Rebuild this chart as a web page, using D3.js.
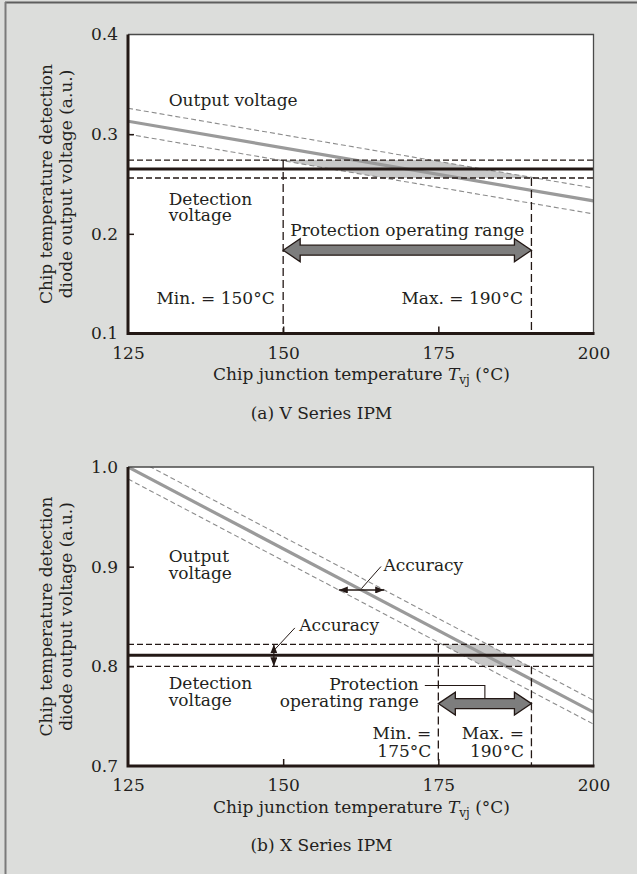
<!DOCTYPE html>
<html><head><meta charset="utf-8">
<script src="https://cdn.jsdelivr.net/npm/d3@7"></script>
<style>
html,body{margin:0;padding:0;background:#dcdddb;}
svg{display:block;}
text{font-family:"DejaVu Serif",serif;fill:#231f20;font-size:17px;}
</style>
</head><body>
<svg id="chart" width="637" height="874"></svg>
<script>
// ---------- shared data ----------
const tempDomain = [125, 200];
const xTickValues = [125, 150, 175, 200];
const yTitleLines = ["Chip temperature detection", "diode output voltage (a.u.)"];
const xTitleParts = ["Chip junction temperature ", "T", "vj", " (°C)"];

// ---------- panel (a) V Series ----------
const aCaption = "(a) V Series IPM";
const aYDomain = [0.1, 0.4];
const aYTicks = [0.1, 0.2, 0.3, 0.4];
const aOutTemps = [125, 200];
const aOutCenter = [0.313, 0.233];
const aOutUpper = [0.326, 0.246];
const aOutLower = [0.300, 0.220];
const aDetect = [0.265, 0.274, 0.256];   // center, upper, lower
const aRange = [150, 190];
const aArrowV = 0.1836;

// ---------- panel (b) X Series ----------
const bCaption = "(b) X Series IPM";
const bYDomain = [0.7, 1.0];
const bYTicks = [0.7, 0.8, 0.9, 1.0];
const bOutTemps = [125, 200];
const bOutCenter = [1.000, 0.754];
const bOutUpper = [1.012, 0.766];
const bOutLower = [0.988, 0.742];
const bDetect = [0.811, 0.822, 0.800];
const bRange = [175, 190];
const bArrowV = 0.7626;
const bAccuracyOutV = 0.8766;   // level of horizontal accuracy arrow
const bAccuracyDetT = 148.5;    // temperature of vertical accuracy arrow

const svg = d3.select("#chart");
svg.append("rect").attr("width", 637).attr("height", 874).attr("fill", "#dcdddb");
svg.append("line").attr("x1", 5).attr("x2", 637).attr("y1", 2.5).attr("y2", 2.5)
  .attr("stroke", "#5e5e5e").attr("stroke-width", 2);
svg.append("line").attr("x1", 5.5).attr("x2", 5.5).attr("y1", 2).attr("y2", 874)
  .attr("stroke", "#7a7a7a").attr("stroke-width", 2);

const defs = svg.append("defs");
defs.append("marker").attr("id", "ah").attr("viewBox", "0 0 9 7")
  .attr("refX", 9).attr("refY", 3.5).attr("markerWidth", 9).attr("markerHeight", 7)
  .attr("markerUnits", "userSpaceOnUse").attr("orient", "auto-start-reverse")
  .append("path").attr("d", "M0,0 L9,3.5 L0,7 Z").attr("fill", "#231815");

const INK = "#231815";

function drawPanel(p) {
  const g = svg.append("g");
  const x = d3.scaleLinear().domain(tempDomain).range([128, 593.5]);
  const y = d3.scaleLinear().domain(p.yDomain).range(p.yRange);
  const [x0, x1] = x.range();
  const [yb, yt] = y.range();

  g.append("rect").attr("x", x0).attr("y", yt).attr("width", x1 - x0).attr("height", yb - yt).attr("fill", "#fff");
  const clipId = "clip" + p.id;
  defs.append("clipPath").attr("id", clipId).append("rect")
    .attr("x", x0).attr("y", yt).attr("width", x1 - x0).attr("height", yb - yt);
  const plot = g.append("g").attr("clip-path", `url(#${clipId})`);

  const lineGen = d3.line().x(d => x(d[0])).y(d => y(d[1]));
  const pts = vals => p.outTemps.map((t, i) => [t, vals[i]]);
  const tAt = (vals, v) => {
    const [t0, t1] = p.outTemps;
    return t0 + (vals[0] - v) / (vals[0] - vals[1]) * (t1 - t0);
  };
  const [dc, du, dl] = p.detect;

  // shaded overlap of the two tolerance bands
  const poly = [[tAt(p.outLower, du), du], [tAt(p.outUpper, du), du],
                [tAt(p.outUpper, dl), dl], [tAt(p.outLower, dl), dl]];
  plot.append("path").attr("d", lineGen(poly) + "Z").attr("fill", "#c8c8c8");

  // output band dashed lines
  [p.outUpper, p.outLower].forEach(v => {
    plot.append("path").attr("d", lineGen(pts(v))).attr("fill", "none")
      .attr("stroke", "#8c8c8c").attr("stroke-width", 1.1).attr("stroke-dasharray", "5,3");
  });
  // output center line
  plot.append("path").attr("d", lineGen(pts(p.outCenter))).attr("fill", "none")
    .attr("stroke", "#9a9a9a").attr("stroke-width", 3.2);

  // detection band dashed
  [du, dl].forEach(v => {
    plot.append("line").attr("x1", x0).attr("x2", x1).attr("y1", y(v)).attr("y2", y(v))
      .attr("stroke", INK).attr("stroke-width", 1.3).attr("stroke-dasharray", "6,3");
  });
  // detection solid
  plot.append("line").attr("x1", x0).attr("x2", x1).attr("y1", y(dc)).attr("y2", y(dc))
    .attr("stroke", INK).attr("stroke-width", 3);

  // range vertical dashed lines
  g.append("line").attr("x1", x(p.range[0])).attr("x2", x(p.range[0]))
    .attr("y1", y(du)).attr("y2", yb).attr("stroke", INK).attr("stroke-width", 1.3).attr("stroke-dasharray", "8,4");
  g.append("line").attr("x1", x(p.range[1])).attr("x2", x(p.range[1]))
    .attr("y1", y(dl)).attr("y2", yb).attr("stroke", INK).attr("stroke-width", 1.3).attr("stroke-dasharray", "8,4");

  // block double arrow
  const ax1 = x(p.range[0]), ax2 = x(p.range[1]), ay = y(p.arrowV);
  const hl = 17, hh = 11.5, sh = 5;
  const arrowPts = [[ax1, ay], [ax1 + hl, ay - hh], [ax1 + hl, ay - sh], [ax2 - hl, ay - sh], [ax2 - hl, ay - hh],
    [ax2, ay], [ax2 - hl, ay + hh], [ax2 - hl, ay + sh], [ax1 + hl, ay + sh], [ax1 + hl, ay + hh]];
  g.append("path").attr("d", "M" + arrowPts.map(d => d.join(",")).join("L") + "Z")
    .attr("fill", "#7d7d7d").attr("stroke", INK).attr("stroke-width", 1.3);

  // frame: top/right thin, left/bottom thick
  g.append("path").attr("d", `M${x0},${yt}H${x1}V${yb}`).attr("fill", "none")
    .attr("stroke", "#4a4a4a").attr("stroke-width", 1.3);
  g.append("path").attr("d", `M${x0},${yt}V${yb}H${x1 + 1}`).attr("fill", "none")
    .attr("stroke", INK).attr("stroke-width", 3);

  // axes (inward ticks)
  const yAxis = g.append("g").attr("transform", `translate(${x0},0)`)
    .call(d3.axisLeft(y).tickValues(p.yTicks).tickFormat(d3.format(".1f"))
      .tickSizeInner(-6).tickSizeOuter(0).tickPadding(10));
  const xAxis = g.append("g").attr("transform", `translate(0,${yb})`)
    .call(d3.axisBottom(x).tickValues(xTickValues).tickFormat(d3.format("d"))
      .tickSizeInner(-7).tickSizeOuter(0).tickPadding(10));
  [yAxis, xAxis].forEach(a => {
    a.select(".domain").remove();
    a.selectAll("text").attr("font-family", "DejaVu Serif").attr("font-size", 17).attr("fill", "#231f20");
    a.selectAll("line").attr("stroke", INK).attr("stroke-width", 1.5);
  });
  yAxis.selectAll(".tick").filter((d, i) => i === 0 || i === p.yTicks.length - 1).select("line").remove();
  xAxis.selectAll(".tick").filter((d, i) => i === 0 || i === xTickValues.length - 1).select("line").remove();
  xAxis.selectAll("text").attr("dy", "0.9em");

  // y title
  const yc = (yb + yt) / 2;
  yTitleLines.forEach((t, i) => {
    g.append("text").attr("transform", `translate(${52 + i * 20},${yc}) rotate(-90)`)
      .attr("text-anchor", "middle").text(t);
  });
  // x title
  const xt = g.append("text").attr("x", 361.5).attr("y", yb + 46.5).attr("text-anchor", "middle");
  xt.append("tspan").text(xTitleParts[0]);
  xt.append("tspan").attr("font-style", "italic").text(xTitleParts[1]);
  xt.append("tspan").attr("font-size", 12).attr("dy", 4).text(xTitleParts[2]);
  xt.append("tspan").attr("dy", -4).text(xTitleParts[3]);
  // caption
  g.append("text").attr("x", 321.5).attr("y", yb + 85).attr("text-anchor", "middle").text(p.caption);

  return { g, x, y };
}

// ---------- Panel A ----------
const A = drawPanel({ id: "a", yDomain: aYDomain, yRange: [333.5, 34.5], yTicks: aYTicks,
  outTemps: aOutTemps, outCenter: aOutCenter, outUpper: aOutUpper, outLower: aOutLower,
  detect: aDetect, range: aRange, arrowV: aArrowV, caption: aCaption });
const tA = (txt, xx, yy, anchor) => A.g.append("text").attr("x", xx).attr("y", yy)
  .attr("text-anchor", anchor || "start").text(txt);
tA("Output voltage", 168.7, 106);
tA("Detection", 168.7, 205);
tA("voltage", 168.7, 221);
tA("Protection operating range", A.x((aRange[0] + aRange[1]) / 2), 236, "middle");
tA("Min. = " + aRange[0] + "°C", A.x(aRange[0]) - 8.5, 304, "end");
tA("Max. = " + aRange[1] + "°C", A.x(aRange[1]) - 8.5, 304, "end");

// ---------- Panel B ----------
const B = drawPanel({ id: "b", yDomain: bYDomain, yRange: [766, 467], yTicks: bYTicks,
  outTemps: bOutTemps, outCenter: bOutCenter, outUpper: bOutUpper, outLower: bOutLower,
  detect: bDetect, range: bRange, arrowV: bArrowV, caption: bCaption });
const tB = (txt, xx, yy, anchor) => B.g.append("text").attr("x", xx).attr("y", yy)
  .attr("text-anchor", anchor || "start").text(txt);
tB("Output", 168.7, 561.7);
tB("voltage", 168.7, 578.5);
tB("Detection", 168.7, 689);
tB("voltage", 168.7, 706);
tB("Protection", B.x(bRange[0]) - 19.5, 690, "end");
tB("operating range", B.x(bRange[0]) - 19.5, 707, "end");
tB("Min. =", B.x(bRange[0]) - 7, 739, "end");
tB(bRange[0] + "°C", B.x(bRange[0]) - 7, 757, "end");
tB("Max. =", B.x(bRange[1]) - 7.5, 739, "end");
tB(bRange[1] + "°C", B.x(bRange[1]) - 7.5, 757, "end");

// leader from "Protection" to arrow
{
  const ly = 685.5, lx0 = B.x(bRange[0]) - 13.5, lxm = B.x((bRange[0] + bRange[1]) / 2);
  const shaftTop = B.y(bArrowV) - 5;
  B.g.append("path").attr("d", `M${lx0},${ly}H${lxm}V${shaftTop}`).attr("fill", "none")
    .attr("stroke", INK).attr("stroke-width", 1.1);
}

// accuracy arrow on output band
{
  const tOf = (vals, v) => bOutTemps[0] + (vals[0] - v) / (vals[0] - vals[1]) * (bOutTemps[1] - bOutTemps[0]);
  const xl = B.x(tOf(bOutLower, bAccuracyOutV)), xr = B.x(tOf(bOutUpper, bAccuracyOutV));
  const yy = B.y(bAccuracyOutV);
  B.g.append("line").attr("x1", xl).attr("x2", xr).attr("y1", yy).attr("y2", yy)
    .attr("stroke", INK).attr("stroke-width", 1.3)
    .attr("marker-start", "url(#ah)").attr("marker-end", "url(#ah)");
  const xm = (xl + xr) / 2;
  B.g.append("line").attr("x1", xm).attr("y1", yy - 1.5).attr("x2", xm + 19.5).attr("y2", yy - 23.5)
    .attr("stroke", INK).attr("stroke-width", 1);
  tB("Accuracy", xm + 22, yy - 19);
}
// accuracy arrow on detection band
{
  const xx = B.x(bAccuracyDetT);
  const y1 = B.y(bDetect[1]), y2 = B.y(bDetect[2]);
  B.g.append("line").attr("x1", xx).attr("x2", xx).attr("y1", y1).attr("y2", y2)
    .attr("stroke", INK).attr("stroke-width", 1.2)
    .attr("marker-start", "url(#ah)").attr("marker-end", "url(#ah)");
  B.g.append("line").attr("x1", xx + 1).attr("y1", y1 + 5).attr("x2", xx + 21).attr("y2", y1 - 16.5)
    .attr("stroke", INK).attr("stroke-width", 1);
  tB("Accuracy", xx + 25.5, 631);
}
</script>
</body></html>
